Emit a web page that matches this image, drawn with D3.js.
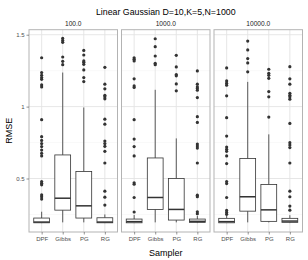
<!DOCTYPE html>
<html>
<head>
<meta charset="utf-8">
<script src="https://cdn.jsdelivr.net/npm/d3@7"></script>
<style>
  body { margin: 0; background: #fff; }
  svg text { font-family: 'Liberation Sans', Arial, sans-serif; }
</style>
</head>
<body>
<svg id="chart" width="308" height="260"></svg>
<script>
// --- data
const samplers = ['DPF', 'Gibbs', 'PG', 'RG']
const facets = ['100.0', '1000.0', '10000.0']
const yTicks = [0.5, 1, 1.5]
const yMinor = [0.25, 0.75, 1.25]

// box stats per sampler: [lower whisker, q1, median, q3, upper whisker]
const boxes100 = [
    [0.19, 0.192, 0.197, 0.225, 0.269],
    [0.195, 0.28, 0.363, 0.664, 1.237],
    [0.195, 0.225, 0.31, 0.549, 0.994],
    [0.19, 0.192, 0.197, 0.227, 0.25]
]
const boxes1000 = [
    [0.19, 0.192, 0.2, 0.218, 0.246],
    [0.195, 0.285, 0.368, 0.643, 1.117],
    [0.195, 0.211, 0.285, 0.5, 0.779],
    [0.19, 0.195, 0.202, 0.218, 0.24]
]
const boxes10000 = [
    [0.19, 0.192, 0.2, 0.223, 0.24],
    [0.195, 0.273, 0.373, 0.639, 1.172],
    [0.195, 0.202, 0.282, 0.458, 0.807],
    [0.19, 0.195, 0.204, 0.223, 0.245]
]

// outliers per sampler
const outliers100 = [
    [1.34, 1.237, 1.218, 1.202, 1.19, 1.151, 1.137, 0.909, 0.791, 0.765, 0.743, 0.722, 0.698, 0.675, 0.657, 0.479, 0.467, 0.456, 0.386, 0.373, 0.357],
    [1.474, 1.46, 1.447, 1.345, 1.315, 1.292],
    [1.391, 1.359, 1.318, 1.308, 1.294, 1.255, 1.202, 1.174],
    [1.273, 1.156, 1.124, 1.079, 1.068, 1.054, 0.913, 0.878, 0.761, 0.743, 0.724, 0.689, 0.608, 0.412, 0.37, 0.315]
]
const outliers1000 = [
    [1.34, 1.329, 1.318, 1.193, 1.144, 1.133, 0.909, 0.774, 0.722, 0.657, 0.47, 0.46, 0.368, 0.267],
    [1.472, 1.417, 1.352, 1.301, 1.292],
    [1.357, 1.276, 1.223, 1.214, 1.158, 1.11],
    [1.248, 1.156, 1.137, 1.126, 1.114, 1.063, 0.93, 0.89, 0.74, 0.726, 0.712, 0.608, 0.384, 0.373, 0.269, 0.255]
]
const outliers10000 = [
    [1.269, 1.179, 1.163, 1.149, 1.075, 0.923, 0.795, 0.719, 0.703, 0.689, 0.657, 0.604, 0.479, 0.465, 0.368, 0.278, 0.264, 0.251],
    [1.456, 1.394, 1.334, 1.304, 1.242],
    [1.26, 1.232, 1.218, 1.197, 1.105, 1.068, 0.927],
    [1.278, 1.193, 1.156, 1.093, 1.079, 1.068, 1.052, 0.883, 0.749, 0.733, 0.715, 0.608, 0.412, 0.373, 0.308, 0.28]
]

const facetBoxes = [boxes100, boxes1000, boxes10000]
const facetOutliers = [outliers100, outliers1000, outliers10000]

// --- layout
const panelLeft = 29
const panelW = 88.5
const panelGap = 4
const panelTop = 29.7
const panelBottom = 232
const ink = '#333333'

const svg = d3.select('#chart')

const y = d3.scaleLinear().domain([0.128, 1.535]).range([panelBottom, panelTop])
const x = d3.scalePoint().domain(samplers).range([0, panelW]).padding(0.6)
const boxW = x.step() * 0.75

// title
svg.append('text')
    .attr('x', panelLeft + (3 * panelW + 2 * panelGap) / 2)
    .attr('y', 15)
    .attr('text-anchor', 'middle')
    .style('font-size', '8.8px')
    .style('fill', '#000')
    .text('Linear Gaussian D=10,K=5,N=1000')

facets.forEach((facet, fi) => {
    const g = svg.append('g')
        .attr('transform', `translate(${panelLeft + fi * (panelW + panelGap)},0)`)

    // strip label
    g.append('text')
        .attr('x', panelW / 2)
        .attr('y', 26)
        .attr('text-anchor', 'middle')
        .style('font-size', '6.6px')
        .style('fill', '#1a1a1a')
        .text(facet)

    // grid
    g.selectAll('line.minor').data(yMinor).enter().append('line')
        .attr('x1', 0).attr('x2', panelW)
        .attr('y1', d => y(d)).attr('y2', d => y(d))
        .style('stroke', '#f2f2f2').style('stroke-width', 0.5)
    g.selectAll('line.major').data(yTicks).enter().append('line')
        .attr('x1', 0).attr('x2', panelW)
        .attr('y1', d => y(d)).attr('y2', d => y(d))
        .style('stroke', '#e3e3e3').style('stroke-width', 0.9)
    g.selectAll('line.vgrid').data(samplers).enter().append('line')
        .attr('x1', d => x(d)).attr('x2', d => x(d))
        .attr('y1', panelTop).attr('y2', panelBottom)
        .style('stroke', '#e3e3e3').style('stroke-width', 0.9)

    const boxes = facetBoxes[fi]
    const outs = facetOutliers[fi]

    samplers.forEach((s, si) => {
        const [lo, q1, med, q3, hi] = boxes[si]
        const cx = x(s)
        // whiskers
        g.append('line')
            .attr('x1', cx).attr('x2', cx).attr('y1', y(q3)).attr('y2', y(hi))
            .style('stroke', ink).style('stroke-width', 0.8)
        g.append('line')
            .attr('x1', cx).attr('x2', cx).attr('y1', y(q1)).attr('y2', y(lo))
            .style('stroke', ink).style('stroke-width', 0.8)
        // box
        g.append('rect')
            .attr('x', cx - boxW / 2).attr('width', boxW)
            .attr('y', y(q3)).attr('height', y(q1) - y(q3))
            .style('fill', '#fff').style('stroke', ink).style('stroke-width', 0.8)
        // median
        g.append('line')
            .attr('x1', cx - boxW / 2).attr('x2', cx + boxW / 2)
            .attr('y1', y(med)).attr('y2', y(med))
            .style('stroke', ink).style('stroke-width', 1.5)
        // outliers
        g.selectAll(null).data(outs[si]).enter().append('circle')
            .attr('cx', cx).attr('cy', d => y(d)).attr('r', 1.6)
            .style('fill', ink)
    })

    // panel border
    g.append('rect')
        .attr('x', 0).attr('y', panelTop)
        .attr('width', panelW).attr('height', panelBottom - panelTop)
        .style('fill', 'none').style('stroke', '#b3b3b3').style('stroke-width', 1)

    // x axis
    const axisX = g.append('g')
        .attr('transform', `translate(0,${panelBottom})`)
        .call(d3.axisBottom(x).tickSize(2.5).tickPadding(2))
    axisX.select('.domain').remove()
    axisX.selectAll('line').style('stroke', '#4d4d4d').style('stroke-width', 0.6)
    axisX.selectAll('text').style('font-size', '6px').style('fill', '#4d4d4d')
        .style('font-family', "'Liberation Sans', Arial, sans-serif")

    if (fi === 0) {
        const axisY = g.append('g')
            .call(d3.axisLeft(y).tickValues(yTicks).tickFormat(d3.format('')).tickSize(2.5).tickPadding(2))
        axisY.select('.domain').remove()
        axisY.selectAll('line').style('stroke', '#4d4d4d').style('stroke-width', 0.6)
        axisY.selectAll('text').style('font-size', '6px').style('fill', '#4d4d4d')
            .style('font-family', "'Liberation Sans', Arial, sans-serif")
    }
})

// axis titles
svg.append('text')
    .attr('x', panelLeft + (3 * panelW + 2 * panelGap) / 2)
    .attr('y', 256)
    .attr('text-anchor', 'middle')
    .style('font-size', '9px')
    .style('fill', '#000')
    .text('Sampler')

svg.append('text')
    .attr('transform', `translate(12,${(panelTop + panelBottom) / 2}) rotate(-90)`)
    .attr('text-anchor', 'middle')
    .style('font-size', '9px')
    .style('fill', '#000')
    .text('RMSE')
</script>
</body>
</html>
